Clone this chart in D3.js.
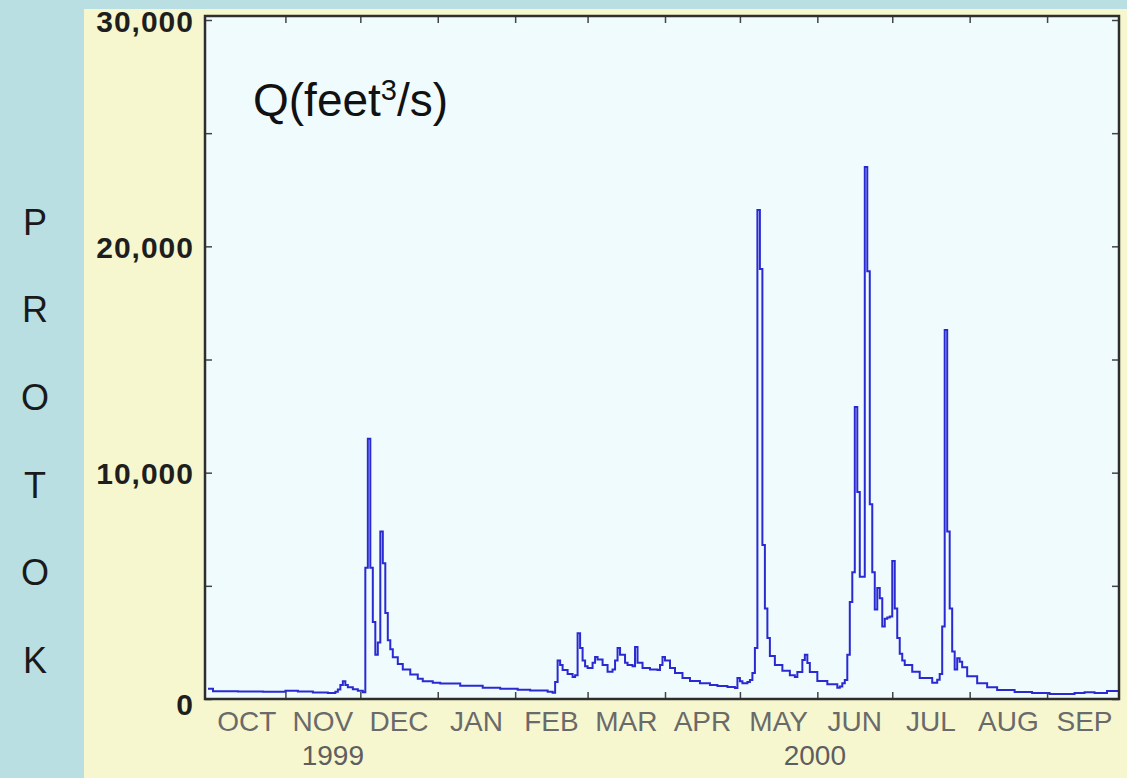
<!DOCTYPE html>
<html>
<head>
<meta charset="utf-8">
<script src="https://cdn.jsdelivr.net/npm/d3@7"></script>
<style>
  html, body { margin: 0; padding: 0; background: #b9dfe3; }
  svg { display: block; }
</style>
</head>
<body>
<svg id="chart" width="1127" height="778"></svg>
<script>
// Station name, written one letter per line down the left margin
const stationLetters = ["P", "R", "O", "T", "O", "K"];

// Water year 1999-10-01 .. 2000-10-01, month labels centred in each month
const monthLabels = ["OCT", "NOV", "DEC", "JAN", "FEB", "MAR", "APR", "MAY", "JUN", "JUL", "AUG", "SEP"];
const yearLabels = [
  ["1999", "1999-11-20"],
  ["2000", "2000-05-31"]
];

// Discharge axis
const yLabelTicks = [0, 10000, 20000, 30000];
const yMinorTicks = [0, 5000, 10000, 15000, 20000, 25000, 30000];

// Daily discharge Q (feet^3/s); each value holds until the next listed date
const discharge = [
  ["1999-10-01", 450], ["1999-10-03", 340], ["1999-10-13", 330], ["1999-10-23", 320],
  ["1999-11-01", 360], ["1999-11-06", 330], ["1999-11-12", 290], ["1999-11-18", 270],
  ["1999-11-21", 320], ["1999-11-22", 420], ["1999-11-23", 620], ["1999-11-24", 780],
  ["1999-11-25", 620], ["1999-11-26", 520], ["1999-11-28", 430], ["1999-11-30", 370],
  ["1999-12-02", 300], ["1999-12-03", 5800], ["1999-12-04", 11500], ["1999-12-05", 5800],
  ["1999-12-06", 3400], ["1999-12-07", 1950], ["1999-12-08", 2500], ["1999-12-09", 7400],
  ["1999-12-10", 6000], ["1999-12-11", 3800], ["1999-12-12", 2600], ["1999-12-13", 2200],
  ["1999-12-14", 1850], ["1999-12-16", 1550], ["1999-12-18", 1300], ["1999-12-21", 1080],
  ["1999-12-24", 900], ["1999-12-26", 780], ["1999-12-30", 720], ["2000-01-02", 680],
  ["2000-01-10", 580], ["2000-01-19", 500], ["2000-01-26", 450], ["2000-02-02", 410],
  ["2000-02-07", 380], ["2000-02-14", 320], ["2000-02-16", 280], ["2000-02-17", 750],
  ["2000-02-18", 1700], ["2000-02-19", 1500], ["2000-02-20", 1280], ["2000-02-22", 1100],
  ["2000-02-24", 970], ["2000-02-25", 1050], ["2000-02-26", 2900], ["2000-02-27", 2250],
  ["2000-02-28", 1700], ["2000-02-29", 1450], ["2000-03-01", 1370], ["2000-03-03", 1600],
  ["2000-03-04", 1860], ["2000-03-05", 1750], ["2000-03-07", 1500], ["2000-03-09", 1200],
  ["2000-03-11", 1300], ["2000-03-12", 1700], ["2000-03-13", 2250], ["2000-03-14", 1950],
  ["2000-03-16", 1600], ["2000-03-17", 1500], ["2000-03-19", 1450], ["2000-03-20", 2300],
  ["2000-03-21", 1600], ["2000-03-23", 1370], ["2000-03-26", 1300], ["2000-03-29", 1280],
  ["2000-03-30", 1500], ["2000-03-31", 1860], ["2000-04-01", 1700], ["2000-04-03", 1370],
  ["2000-04-05", 1150], ["2000-04-08", 930], ["2000-04-11", 800], ["2000-04-15", 700],
  ["2000-04-19", 620], ["2000-04-22", 575], ["2000-04-26", 530], ["2000-04-29", 490],
  ["2000-04-30", 930], ["2000-05-01", 780], ["2000-05-02", 700], ["2000-05-04", 750],
  ["2000-05-05", 840], ["2000-05-06", 1150], ["2000-05-07", 2250], ["2000-05-08", 21600],
  ["2000-05-09", 19000], ["2000-05-10", 6800], ["2000-05-11", 4000], ["2000-05-12", 2700],
  ["2000-05-13", 1900], ["2000-05-15", 1500], ["2000-05-18", 1250], ["2000-05-21", 1050],
  ["2000-05-23", 970], ["2000-05-24", 1190], ["2000-05-26", 1720], ["2000-05-27", 1950],
  ["2000-05-28", 1590], ["2000-05-29", 1190], ["2000-06-01", 800], ["2000-06-05", 650],
  ["2000-06-09", 500], ["2000-06-10", 550], ["2000-06-11", 700], ["2000-06-12", 840],
  ["2000-06-13", 1950], ["2000-06-14", 4290], ["2000-06-15", 5600], ["2000-06-16", 12900],
  ["2000-06-17", 9150], ["2000-06-18", 5400], ["2000-06-19", 5400], ["2000-06-20", 23500],
  ["2000-06-21", 18900], ["2000-06-22", 8600], ["2000-06-23", 5600], ["2000-06-24", 3950],
  ["2000-06-25", 4900], ["2000-06-26", 4450], ["2000-06-27", 3200], ["2000-06-28", 3550],
  ["2000-06-29", 3600], ["2000-06-30", 3650], ["2000-07-01", 6100], ["2000-07-02", 4000],
  ["2000-07-03", 2700], ["2000-07-04", 2000], ["2000-07-05", 1700], ["2000-07-06", 1500],
  ["2000-07-09", 1200], ["2000-07-12", 930], ["2000-07-17", 720], ["2000-07-19", 850],
  ["2000-07-20", 1100], ["2000-07-21", 3200], ["2000-07-22", 16300], ["2000-07-23", 7400],
  ["2000-07-24", 4000], ["2000-07-25", 2100], ["2000-07-26", 1300], ["2000-07-27", 1800],
  ["2000-07-28", 1650], ["2000-07-29", 1400], ["2000-07-31", 1000], ["2000-08-04", 700],
  ["2000-08-08", 520], ["2000-08-12", 400], ["2000-08-19", 310], ["2000-08-26", 265],
  ["2000-09-02", 220], ["2000-09-12", 265], ["2000-09-16", 300], ["2000-09-20", 265],
  ["2000-09-25", 350], ["2000-09-30", 310]
];

const parseDay = d3.utcParse("%Y-%m-%d");
const svg = d3.select("#chart");

// Panel and plot frame geometry
const panel = { x: 84, y: 9, w: 1127 - 84, h: 778 - 9 };
const frame = { left: 205, top: 16, right: 1119, bottom: 699 };

const start = parseDay("1999-10-01");
const end = parseDay("2000-10-01");

const x = d3.scaleUtc().domain([start, end]).range([208, 1122]);
const y = d3.scaleLinear().domain([0, 30000]).range([699, 20]);

// Yellow panel behind the axes
svg.append("rect")
  .attr("x", panel.x).attr("y", panel.y)
  .attr("width", panel.w).attr("height", panel.h)
  .attr("fill", "#f7f7cf");

// Plot area background
svg.append("rect")
  .attr("x", frame.left).attr("y", frame.top)
  .attr("width", frame.right - frame.left).attr("height", frame.bottom - frame.top)
  .attr("fill", "#effbfd");

svg.append("clipPath").attr("id", "plot-clip")
  .append("rect")
  .attr("x", frame.left).attr("y", frame.top)
  .attr("width", frame.right - frame.left).attr("height", frame.bottom - frame.top);

// Hydrograph as a daily step line
const series = discharge.map(([d, v]) => ({ date: parseDay(d), value: v }));
series.push({ date: end, value: series[series.length - 1].value });

const line = d3.line()
  .x(d => x(d.date))
  .y(d => y(d.value))
  .curve(d3.curveStepAfter);

svg.append("path")
  .datum(series)
  .attr("clip-path", "url(#plot-clip)")
  .attr("fill", "none")
  .attr("stroke", "#2a2ad2")
  .attr("stroke-width", 2)
  .attr("stroke-linejoin", "miter")
  .attr("d", line);

// Inward ticks on all four sides
const monthStarts = d3.utcMonth.range(start, end);
const tickLen = 7;
const tickColor = "#444";

const bottomAxis = d3.axisTop(x)
  .tickValues(monthStarts.slice(1))
  .tickSize(tickLen).tickFormat("");
svg.append("g").attr("transform", `translate(0,${frame.bottom})`).call(bottomAxis)
  .call(g => g.select(".domain").remove())
  .call(g => g.selectAll("line").attr("stroke", tickColor).attr("stroke-width", 1.5));

const topAxis = d3.axisBottom(x)
  .tickValues(monthStarts.slice(1))
  .tickSize(tickLen).tickFormat("");
svg.append("g").attr("transform", `translate(0,${frame.top})`).call(topAxis)
  .call(g => g.select(".domain").remove())
  .call(g => g.selectAll("line").attr("stroke", tickColor).attr("stroke-width", 1.5));

const leftAxis = d3.axisRight(y).tickValues(yMinorTicks).tickSize(tickLen).tickFormat("");
svg.append("g").attr("transform", `translate(${frame.left},0)`).call(leftAxis)
  .call(g => g.select(".domain").remove())
  .call(g => g.selectAll("line").attr("stroke", tickColor).attr("stroke-width", 1.5));

const rightAxis = d3.axisLeft(y).tickValues(yMinorTicks).tickSize(tickLen).tickFormat("");
svg.append("g").attr("transform", `translate(${frame.right},0)`).call(rightAxis)
  .call(g => g.select(".domain").remove())
  .call(g => g.selectAll("line").attr("stroke", tickColor).attr("stroke-width", 1.5));

// Frame
svg.append("rect")
  .attr("x", frame.left).attr("y", frame.top)
  .attr("width", frame.right - frame.left).attr("height", frame.bottom - frame.top)
  .attr("fill", "none")
  .attr("stroke", "#2e2e2e")
  .attr("stroke-width", 2.5);

// Discharge labels
svg.append("g").selectAll("text")
  .data(yLabelTicks)
  .join("text")
  .attr("x", 194)
  .attr("y", d => y(d) + (d === 0 ? 5 : 1))
  .attr("text-anchor", "end")
  .attr("dominant-baseline", "central")
  .attr("font-family", "Liberation Sans, Arial, sans-serif")
  .attr("font-size", 30)
  .attr("font-weight", "bold")
  .attr("letter-spacing", 1)
  .attr("fill", "#1e1e1e")
  .text(d => d3.format(",")(d));

// Month labels
svg.append("g").selectAll("text")
  .data(monthStarts)
  .join("text")
  .attr("x", (d, i) => (x(d) + x(d3.utcMonth.offset(d, 1))) / 2)
  .attr("y", 731)
  .attr("text-anchor", "middle")
  .attr("font-family", "Liberation Sans, Arial, sans-serif")
  .attr("font-size", 28)
  .attr("fill", "#6a6a6a")
  .text((d, i) => monthLabels[i]);

// Year labels
svg.append("g").selectAll("text")
  .data(yearLabels)
  .join("text")
  .attr("x", d => x(parseDay(d[1])))
  .attr("y", 765)
  .attr("text-anchor", "middle")
  .attr("font-family", "Liberation Sans, Arial, sans-serif")
  .attr("font-size", 28)
  .attr("fill", "#5e5e5e")
  .text(d => d[0]);

// Quantity label inside the plot
const q = svg.append("text")
  .attr("x", 253)
  .attr("y", 116)
  .attr("font-family", "Liberation Sans, Arial, sans-serif")
  .attr("font-size", 46)
  .attr("fill", "#111");
q.append("tspan").text("Q(feet");
q.append("tspan").attr("font-size", 29).attr("dy", -16).text("3");
q.append("tspan").attr("dy", 16).text("/s)");

// Station name letters
svg.append("g").selectAll("text")
  .data(stationLetters)
  .join("text")
  .attr("x", 35)
  .attr("y", (d, i) => 222 + i * 87.7)
  .attr("text-anchor", "middle")
  .attr("dominant-baseline", "central")
  .attr("font-family", "Liberation Sans, Arial, sans-serif")
  .attr("font-size", 36)
  .attr("fill", "#1a1a1a")
  .text(d => d);
</script>
</body>
</html>
